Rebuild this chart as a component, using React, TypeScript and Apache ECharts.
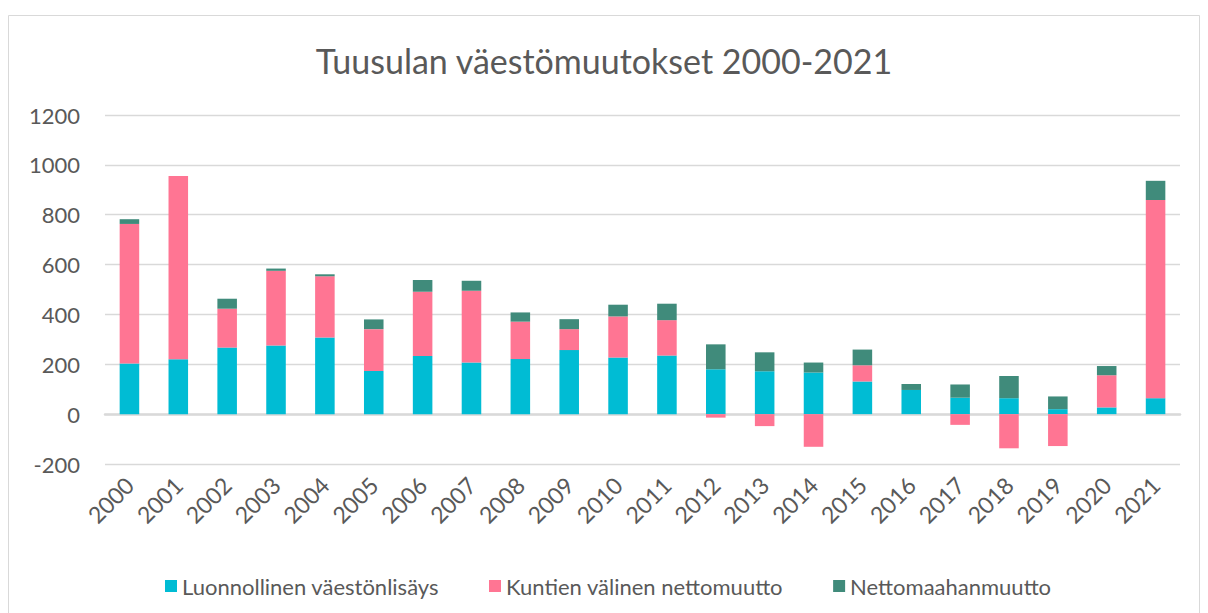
import React, { useEffect, useRef } from "react";
import * as echarts from "echarts";

const years = ["2000","2001","2002","2003","2004","2005","2006","2007","2008","2009","2010","2011","2012","2013","2014","2015","2016","2017","2018","2019","2020","2021"];
const luonnollinen = [203,220,267,275,307,173,233,207,221,257,227,235,180,172,167,131,97,66,64,20,27,64];
const kuntien = [560,735,156,300,246,168,258,288,150,84,165,142,-14,-48,-131,65,0,-43,-137,-128,129,795];
const netto = [19,0,40,9,8,39,47,40,37,40,47,66,100,76,40,63,24,53,89,51,37,77];
const yTicks = { min: -200, max: 1200, interval: 200 };
const titleText = "Tuusulan väestömuutokset 2000-2021";
const seriesNames = ["Luonnollinen väestönlisäys", "Kuntien välinen nettomuutto", "Nettomaahanmuutto"];
const colors = ["#00BCD4", "#FF7593", "#408B7B"];

const FONT = "Lato";
const TXT = "#595959";

export default function App() {
  const ref = useRef<HTMLDivElement>(null);
  useEffect(() => {
    const chart = echarts.init(ref.current!, null, { renderer: "svg" });
    const data = [luonnollinen, kuntien, netto];
    chart.setOption({
      animation: false,
      textStyle: { fontFamily: FONT },
      graphic: [
        {
          type: "rect",
          shape: { x: 8.5, y: 15.5, width: 1191, height: 620 },
          style: { fill: "none", stroke: "#D9D9D9", lineWidth: 1 },
          silent: true,
        },
      ],
      title: {
        text: titleText,
        left: "center",
        top: 38,
        textStyle: { fontFamily: FONT, fontSize: 34, fontWeight: "normal", color: TXT },
      },
      legend: {
        data: seriesNames,
        top: 570,
        left: 160,
        itemGap: 50,
        itemWidth: 12,
        itemHeight: 12,
        icon: "rect",
        textStyle: { fontFamily: FONT, fontSize: 22, color: TXT },
      },
      grid: { left: 105, right: 28, top: 115, bottom: 149, containLabel: false },
      xAxis: {
        type: "category",
        data: years,
        axisLine: { show: true, lineStyle: { color: "#D9D9D9", width: 2.5 } },
        axisTick: { show: false },
        axisLabel: { rotate: 45, fontFamily: FONT, fontSize: 23, color: TXT, margin: 17, interval: 0 },
      },
      yAxis: {
        type: "value",
        min: yTicks.min,
        max: yTicks.max,
        interval: yTicks.interval,
        axisLine: { show: false },
        axisTick: { show: false },
        axisLabel: {
          fontFamily: FONT,
          fontSize: 22,
          color: TXT,
          margin: 25,
          formatter: (v: number) => String(v),
        },
        splitLine: { lineStyle: { color: "#D9D9D9", width: 1.3 } },
      },
      series: seriesNames.map((name, i) => ({
        name,
        type: "bar",
        stack: "total",
        barWidth: "40%",
        data: data[i],
        itemStyle: { color: colors[i] },
      })),
    });
    return () => chart.dispose();
  }, []);
  return (
    <div
      ref={ref}
      style={{ position: "absolute", left: 0, top: 0, width: 1208, height: 613, background: "#fff" }}
    />
  );
}
